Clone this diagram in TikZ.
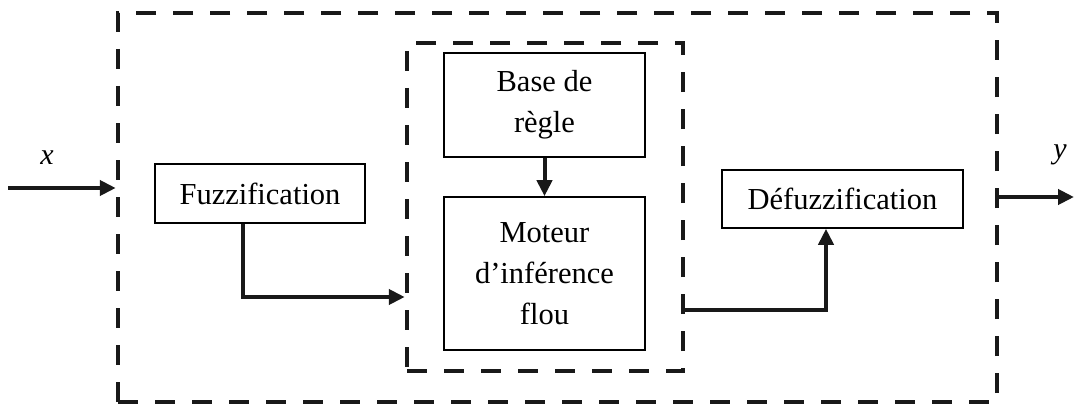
\documentclass[tikz,border=0pt]{standalone}
\usepackage{fontspec}
\setmainfont{Liberation Serif}
\usetikzlibrary{arrows.meta}
\begin{document}
\begin{tikzpicture}[x=1pt,y=-1pt,
  txt/.style={font=\fontsize{30.5}{41}\selectfont},
  blockbox/.style={draw=black,line width=1.6pt,txt,align=center,inner sep=0pt},
  dashbox/.style={draw=black!90,line width=4.5pt,dash pattern=on 20pt off 17pt,inner sep=0pt},
  arr/.style={line width=4pt,draw=black!90,-{Triangle[length=16pt,width=15pt]}},
  link/.style={line width=4pt,draw=black!90}]
\useasboundingbox (0,0) rectangle (1074,412);
\node[dashbox,minimum width=879pt,minimum height=389pt] (outer) at (557.5,207.5) {};
\node[dashbox,minimum width=276pt,minimum height=328pt] (inner) at (545,207) {};
\node[blockbox,minimum width=210pt,minimum height=59pt] (fuzz) at (260,193.5) {Fuzzification};
\node[blockbox,minimum width=241pt,minimum height=58pt] (defuz) at (842.5,199) {Défuzzification};
\node[blockbox,minimum width=201pt,minimum height=104pt] (base) at (544.5,105) {Base de\\règle};
\node[blockbox,minimum width=201pt,minimum height=153pt] (moteur) at (544.5,273.5) {Moteur\\d’inférence\\flou};
\node[txt,font=\fontsize{30}{36}\selectfont\itshape] (xl) at (47,158) {x};
\node[txt,font=\fontsize{30}{36}\selectfont\itshape] (yl) at (1060,155) {y};
\coordinate (in) at (8,188);
\coordinate (out) at (1074,197);
\coordinate (f1) at (243,297);
\coordinate (m1) at (826,310);
\draw[arr] (in) -- (in -| outer.west);
\draw[arr] (outer.east |- out) -- (out);
\draw[arr] (base.south) -- (moteur.north);
\draw[arr] (fuzz.south -| f1) -- (f1) -- (f1 -| inner.west);
\draw[arr] (m1 -| inner.east) -- (m1) -- (m1 |- defuz.south);
\end{tikzpicture}
\end{document}
